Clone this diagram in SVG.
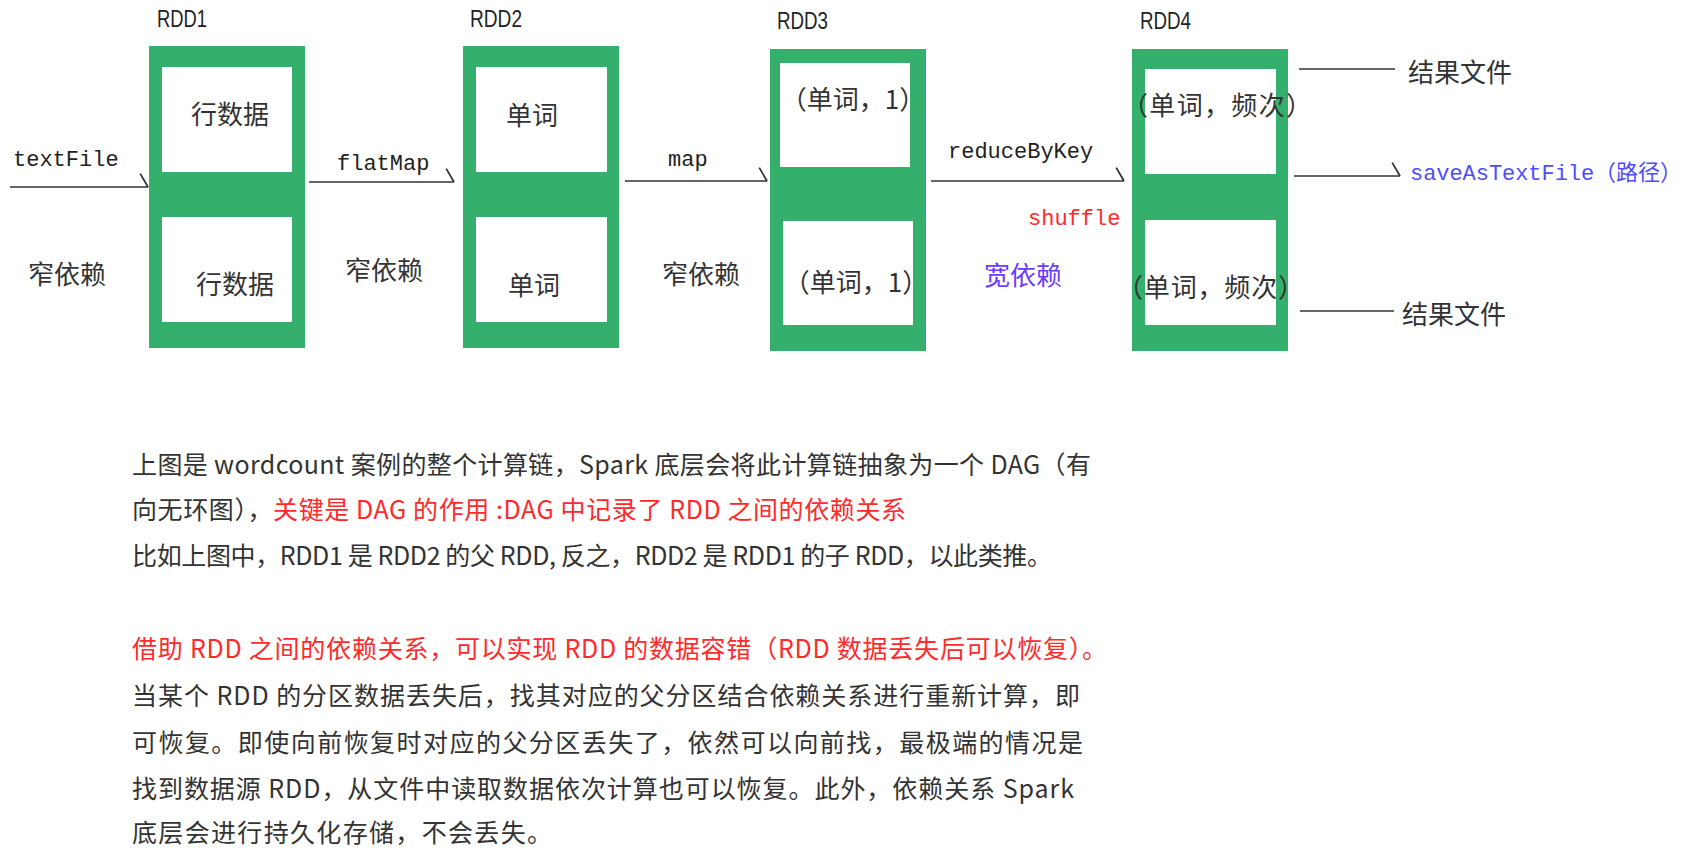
<svg xmlns="http://www.w3.org/2000/svg" width="1686" height="848" viewBox="0 0 1686 848">
<style>
.outer{fill:#34b06c}
.inner{fill:#ffffff}
.rdd{font-family:"Liberation Sans",Arial,sans-serif;font-size:23px;fill:#222}
.mono{font-family:"Liberation Mono","Noto Sans CJK SC",monospace;font-size:22px;fill:#222}
.cjk{font-family:"Noto Sans CJK SC",sans-serif;font-size:26px;fill:#333;dominant-baseline:central}
.para{font-family:"Noto Sans CJK SC",sans-serif;font-size:25px;fill:#333;dominant-baseline:central}
.red{fill:#ff2a2a}
.blue{fill:#4d4dff}
.purple{fill:#6a3cff}
.line{stroke:#333;stroke-width:1.6;fill:none}
</style>
<defs>
<marker id="barb" markerUnits="userSpaceOnUse" markerWidth="20" markerHeight="20" viewBox="-10 -15 12 18" refX="0" refY="0" orient="auto">
<path d="M-7,-12 L0,0" stroke="#333" stroke-width="1.6" fill="none"/>
</marker>
</defs>
<rect width="1686" height="848" fill="#ffffff"/>

<g id="rdd1">
<rect class="outer" x="149" y="46" width="156" height="302"/>
<rect class="inner" x="162" y="67" width="130" height="105"/>
<rect class="inner" x="162" y="217" width="130" height="105"/>
<text class="rdd" x="157" y="27" textLength="50" lengthAdjust="spacingAndGlyphs">RDD1</text>
<text class="cjk" x="230" y="112" text-anchor="middle">行数据</text>
<text class="cjk" x="235" y="282" text-anchor="middle">行数据</text>
</g>

<g id="rdd2">
<rect class="outer" x="463" y="46" width="156" height="302"/>
<rect class="inner" x="476" y="67" width="131" height="105"/>
<rect class="inner" x="476" y="217" width="131" height="105"/>
<text class="rdd" x="470" y="27" textLength="52" lengthAdjust="spacingAndGlyphs">RDD2</text>
<text class="cjk" x="532" y="113" text-anchor="middle">单词</text>
<text class="cjk" x="534" y="283" text-anchor="middle">单词</text>
</g>

<g id="rdd3">
<rect class="outer" x="770" y="49" width="156" height="302"/>
<rect class="inner" x="780" y="63" width="130" height="104"/>
<rect class="inner" x="783" y="221" width="130" height="104"/>
<text class="rdd" x="777" y="29" textLength="51" lengthAdjust="spacingAndGlyphs">RDD3</text>
<text class="cjk" x="853" y="97" text-anchor="middle">（单词，1）</text>
<text class="cjk" x="856" y="280" text-anchor="middle">（单词，1）</text>
</g>

<g id="rdd4">
<rect class="outer" x="1132" y="49" width="156" height="302"/>
<rect class="inner" x="1145" y="69" width="131" height="105"/>
<rect class="inner" x="1145" y="220" width="131" height="105"/>
<text class="rdd" x="1140" y="29" textLength="51" lengthAdjust="spacingAndGlyphs">RDD4</text>
<text class="cjk" x="1122" y="103" textLength="190" lengthAdjust="spacing">（单词，频次）</text>
<text class="cjk" x="1117" y="285" textLength="187" lengthAdjust="spacing">（单词，频次）</text>
</g>

<g id="connectors">
<path class="line" d="M10,187 L148,187" marker-end="url(#barb)"/>
<path class="line" d="M309,182 L454,182" marker-end="url(#barb)"/>
<path class="line" d="M625,181 L767,181" marker-end="url(#barb)"/>
<path class="line" d="M931,181 L1124,181" marker-end="url(#barb)"/>
<path class="line" d="M1294,176 L1400,176" marker-end="url(#barb)"/>
<path class="line" d="M1299,69 L1395,69"/>
<path class="line" d="M1300,311 L1394,311"/>
</g>

<g id="edge-labels">
<text class="mono" x="13" y="166">textFile</text>
<text class="mono" x="337" y="170">flatMap</text>
<text class="mono" x="668" y="166">map</text>
<text class="mono" x="948" y="158">reduceByKey</text>
<text class="mono red" x="1028" y="225">shuffle</text>
<text class="mono blue" x="1410" y="180" textLength="272" lengthAdjust="spacing">saveAsTextFile（路径）</text>
<text class="cjk" x="67" y="272" text-anchor="middle">窄依赖</text>
<text class="cjk" x="384" y="268" text-anchor="middle">窄依赖</text>
<text class="cjk" x="701" y="272" text-anchor="middle">窄依赖</text>
<text class="cjk purple" x="1023" y="273" text-anchor="middle">宽依赖</text>
<text class="cjk" x="1460" y="70" text-anchor="middle">结果文件</text>
<text class="cjk" x="1454" y="312" text-anchor="middle">结果文件</text>
</g>

<g id="description">
<text class="para" x="132" y="463" textLength="959" lengthAdjust="spacing">上图是 wordcount 案例的整个计算链，Spark 底层会将此计算链抽象为一个 DAG（有</text>
<text class="para" x="132" y="508" textLength="774" lengthAdjust="spacing">向无环图），<tspan class="red">关键是 DAG 的作用 :DAG 中记录了 RDD 之间的依赖关系</tspan></text>
<text class="para" x="132" y="554" textLength="920" lengthAdjust="spacing">比如上图中，RDD1 是 RDD2 的父 RDD, 反之，RDD2 是 RDD1 的子 RDD，以此类推。</text>
<text class="para red" x="132" y="647" textLength="975" lengthAdjust="spacing">借助 RDD 之间的依赖关系，可以实现 RDD 的数据容错（RDD 数据丢失后可以恢复）。</text>
<text class="para" x="132" y="694" textLength="948" lengthAdjust="spacing">当某个 RDD 的分区数据丢失后，找其对应的父分区结合依赖关系进行重新计算，即</text>
<text class="para" x="132" y="741" textLength="951" lengthAdjust="spacing">可恢复。即使向前恢复时对应的父分区丢失了，依然可以向前找，最极端的情况是</text>
<text class="para" x="132" y="787" textLength="942" lengthAdjust="spacing">找到数据源 RDD，从文件中读取数据依次计算也可以恢复。此外，依赖关系 Spark</text>
<text class="para" x="132" y="831" textLength="420" lengthAdjust="spacing">底层会进行持久化存储，不会丢失。</text>
</g>
</svg>
